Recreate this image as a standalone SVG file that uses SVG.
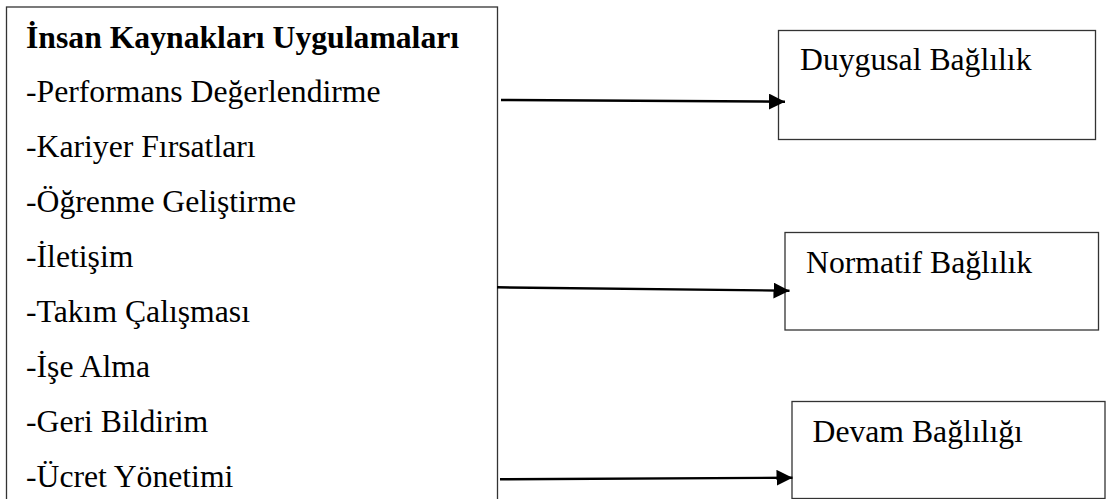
<svg xmlns="http://www.w3.org/2000/svg" width="1106" height="499" viewBox="0 0 1106 499">
  <style>
    .box { fill: #ffffff; stroke: #333333; stroke-width: 1.3; }
    .t { font-family: "Liberation Serif", "Times New Roman", serif; font-size: 31.7px; fill: #000000; }
    .b { font-weight: bold; }
    .conn { stroke: #000000; stroke-width: 2.4; fill: none; }
  </style>
  <defs>
    <marker id="arrow" markerUnits="userSpaceOnUse" markerWidth="17" markerHeight="18" refX="16" refY="8" orient="auto">
      <path d="M0,0 L16,8 L0,16 Z" fill="#000000"/>
    </marker>
  </defs>
  <rect width="1106" height="499" fill="#ffffff"/>

  <!-- HR practices list -->
  <g id="hr-practices">
    <rect class="box" x="6.5" y="7" width="491" height="500"/>
    <text class="t b" x="26" y="47.5">İnsan Kaynakları Uygulamaları</text>
    <text class="t" x="26" y="101.5">-Performans Değerlendirme</text>
    <text class="t" x="26" y="156.5">-Kariyer Fırsatları</text>
    <text class="t" x="26" y="211.5">-Öğrenme Geliştirme</text>
    <text class="t" x="26" y="266.5">-İletişim</text>
    <text class="t" x="26" y="321.5">-Takım Çalışması</text>
    <text class="t" x="26" y="376.5">-İşe Alma</text>
    <text class="t" x="26" y="431.5">-Geri Bildirim</text>
    <text class="t" x="26" y="487">-Ücret Yönetimi</text>
  </g>

  <!-- Commitment types -->
  <g id="affective">
    <rect class="box" x="778.5" y="30.5" width="317" height="109"/>
    <text class="t" x="800" y="70">Duygusal Bağlılık</text>
  </g>
  <g id="normative">
    <rect class="box" x="785" y="232.5" width="313.5" height="97.5"/>
    <text class="t" x="806" y="272.5">Normatif Bağlılık</text>
  </g>
  <g id="continuance">
    <rect class="box" x="792" y="401.5" width="313" height="97"/>
    <text class="t" x="812.5" y="441.5">Devam Bağlılığı</text>
  </g>

  <!-- Connectors -->
  <g id="connectors">
    <line class="conn" x1="501" y1="100" x2="785" y2="101.7" marker-end="url(#arrow)"/>
    <line class="conn" x1="497" y1="287.3" x2="789.5" y2="290.7" marker-end="url(#arrow)"/>
    <line class="conn" x1="500" y1="479.3" x2="792.5" y2="477.7" marker-end="url(#arrow)"/>
  </g>
</svg>
